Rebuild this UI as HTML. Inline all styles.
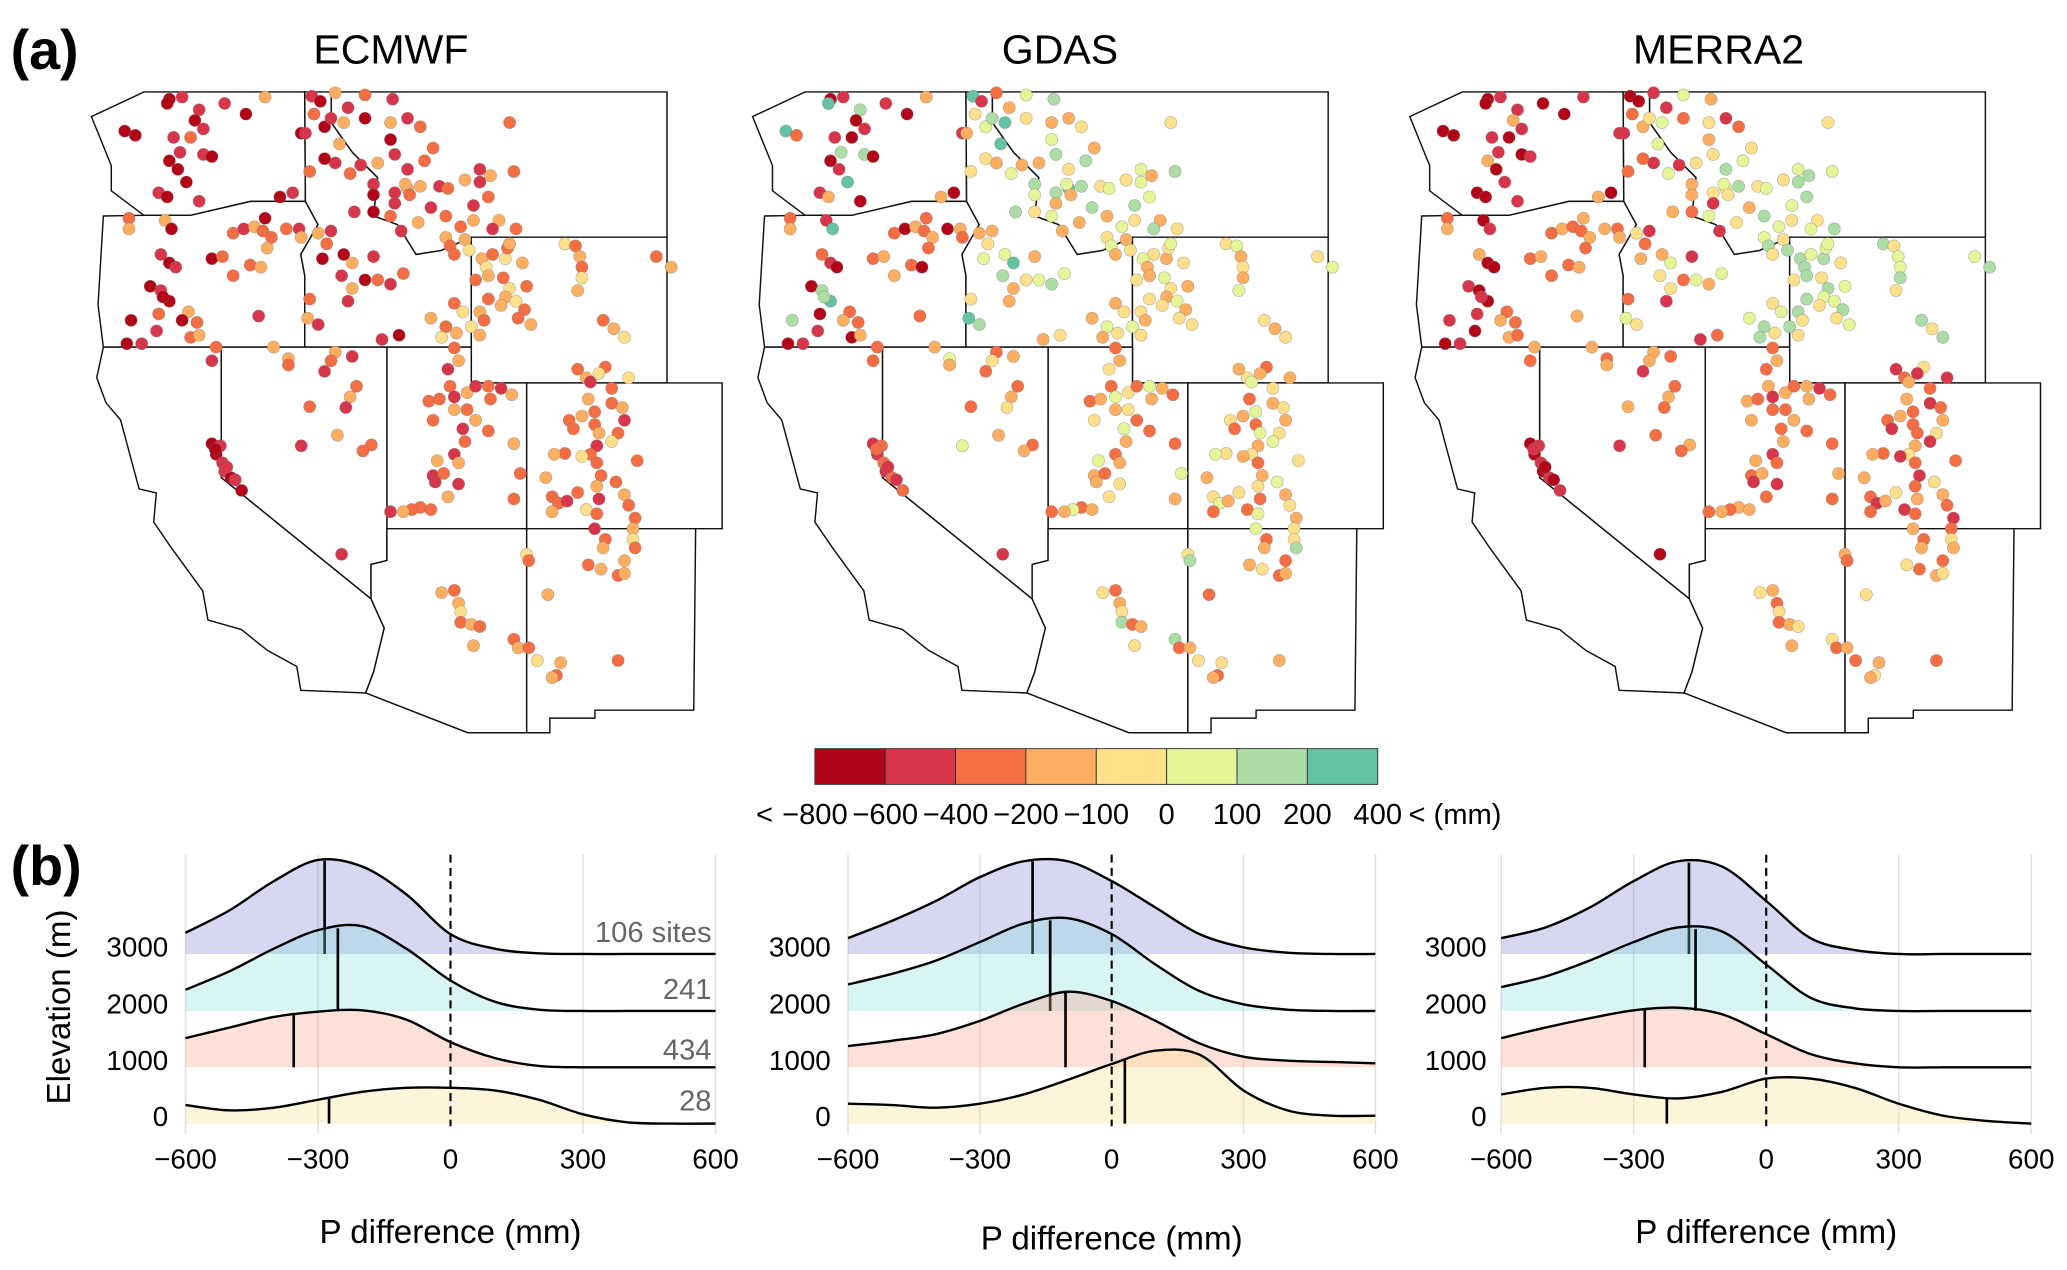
<!DOCTYPE html>
<html><head><meta charset="utf-8"><style>
html,body{margin:0;padding:0;background:#fff}
svg{display:block}
text{font-family:"Liberation Sans",Arial,sans-serif}
</style></head><body>
<svg id="fig" width="2067" height="1270" viewBox="0 0 1560 958.5" preserveAspectRatio="none" xmlns="http://www.w3.org/2000/svg">
<text x="8" y="52" font-size="42" font-weight="bold">(a)</text>
<text x="8" y="668" font-size="42" font-weight="bold">(b)</text>
<text x="295" y="48" font-size="31" text-anchor="middle">ECMWF</text>
<text x="800" y="48" font-size="31" text-anchor="middle">GDAS</text>
<text x="1297" y="48" font-size="31" text-anchor="middle">MERRA2</text>
<g id="maps"></g>
<g id="cbar"></g>
<g id="ridges"></g>
</svg>
<script>
const NS="http://www.w3.org/2000/svg";
const fig=document.getElementById('fig');
function mk(tag,attrs,parent){const e=document.createElementNS(NS,tag);for(const k in attrs)e.setAttribute(k,attrs[k]);(parent||fig).appendChild(e);return e;}

// ---------- colour classes ----------
const classColors=["#b30518","#d7364a","#f46d43","#fdae61","#fee08b","#e6f598","#abdda4","#66c2a5"];
const classLabels=["−800","−600","−400","−200","−100","0","100","200","400"];

// ---------- site positions (reference-zoom coords) by region ----------
const sitesWA=[[210,45],[240,40],[205,55],[280,70],[270,95],[340,55],[435,40],[390,80],[290,115],[105,120],[130,130],[220,135],[260,135],[235,170],[210,190],[230,210],[250,240],[290,175],[310,180],[185,265],[205,275],[280,285],[200,330],[215,350],[190,410],[210,430],[165,485],[190,495],[185,550],[180,590],[210,520],[120,565],[110,620],[145,620],[470,275],[500,265],[520,125],[545,38],[600,30],[565,50],[225,440],[195,510]];
const sitesOR=[[115,325],[115,350],[360,360],[385,350],[410,345],[435,325],[430,355],[450,370],[440,395],[485,350],[515,350],[520,370],[310,420],[335,415],[400,435],[425,440],[360,460],[420,555],[255,545],[240,565],[275,570],[260,605],[280,600],[320,628],[310,660],[455,628]];
const sitesID=[[530,125],[550,80],[575,110],[590,90],[620,100],[630,65],[670,90],[670,35],[735,45],[730,100],[770,90],[800,110],[730,140],[740,175],[610,150],[600,195],[575,185],[635,220],[690,245],[700,195],[660,200],[540,215],[690,270],[740,265],[770,255],[740,290],[690,310],[730,320],[645,310],[560,360],[590,355],[580,385],[620,410],[615,460],[640,430],[690,415],[670,470],[700,470],[730,480],[640,490],[630,520],[540,515],[570,420],[560,575],[535,560],[710,610],[750,600],[760,455],[825,300],[795,335],[755,355]];
const sitesMT=[[1010,100],[940,210],[965,225],[1020,215],[905,235],[940,240],[830,160],[810,190],[770,210],[765,245],[775,270],[800,250],[845,250],[865,255],[860,320],[925,295],[925,330],[960,275],[985,330],[970,350],[1025,350],[895,345]];
const sitesWY=[[860,370],[870,390],[905,375],[915,400],[880,410],[945,420],[970,410],[1000,420],[1040,430],[1005,395],[1010,385],[955,440],[930,470],[960,460],[995,465],[1010,490],[1000,510],[960,515],[990,530],[1025,520],[1050,485],[940,545],[950,565],[920,580],[940,600],[1045,540],[1060,575],[1140,385],[1165,390],[1175,415],[1180,440],[1180,465],[1170,495],[1230,565],[1255,585],[1280,605],[1355,415],[1390,440],[880,525],[900,545],[825,560],[860,580],[885,595],[850,605],[1030,560]];
const sitesUT=[[880,630],[890,660],[865,680],[870,720],[880,745],[880,775],[820,755],[845,750],[910,735],[930,720],[960,720],[990,725],[1015,740],[965,750],[910,775],[930,800],[900,820],[905,850],[880,880],[890,900],[830,800],[960,825],[840,895],[830,930],[855,925],[835,945],[865,980],[800,1005],[780,1010],[760,1015],[730,1015],[825,1010],[890,950],[1020,855],[1035,925],[1020,985],[600,640],[640,650],[590,660],[575,685],[490,655],[490,670],[650,720],[635,745],[625,770],[540,768],[520,860],[605,835],[685,858],[665,872]];
const sitesNVCA=[[310,855],[330,860],[320,880],[335,900],[340,920],[355,935],[365,940],[380,965],[615,1115],[318,868],[345,910]];
const sitesCO=[[1170,680],[1190,700],[1200,710],[1235,675],[1220,690],[1250,725],[1195,750],[1210,780],[1250,760],[1275,770],[1280,800],[1265,830],[1250,850],[1210,810],[1180,790],[1150,800],[1160,820],[1220,830],[1215,860],[1200,880],[1180,885],[1140,878],[1115,880],[1215,900],[1225,930],[1215,955],[1220,985],[1260,945],[1290,700],[1310,895],[1095,935],[1110,980],[1125,995],[1110,1015],[1145,990],[1170,970],[1190,1010],[1215,1020],[1280,975],[1290,1000],[1305,1030],[1300,1055],[1210,1055]];
const sitesNMAZ=[[1235,1080],[1230,1100],[1300,1080],[1305,1100],[1280,1130],[1195,1140],[1225,1150],[1265,1165],[1280,1160],[1050,1115],[1055,1130],[1100,1210],[1265,1365],[1130,1370],[1120,1400],[1110,1405],[1075,1365],[1020,1315],[1030,1335],[1055,1335],[850,1205],[880,1200],[890,1230],[895,1250],[895,1275],[920,1280],[940,1285],[925,1330]];
const regions=[sitesWA,sitesOR,sitesID,sitesMT,sitesWY,sitesUT,sitesNVCA,sitesCO,sitesNMAZ];

const ecmwfClasses=["0101013010012100","2321302","1201310213","2132312","32342324","2312132","0101101","23124232","2342323"];
const gdasClasses=["01760130172106","232032","3456734563","45364536","453435434","234253","121212","3452342534","2346234"];
const merra2Classes=["0101301010","2323","1234512534","456546","5646465645","2323123","010101","12341232","234324"];
const mapOffsets=[0,499,995];
const mapNames=["ecmwf","gdas","merra2"];
const mapClasses=[ecmwfClasses,gdasClasses,merra2Classes];

const states={
WA:"M69,88 L84,125 L84,144 L108.6,162.5 L144,162.5 L189,152 L230.5,152 L230,69.4 L108.6,69.4 Z",
OR:"M108.6,162.5 L78,163 L74,230 L78,262 L230,262 L230,208 L227,192 L240,169.5 L230.5,152 L189,152 L144,162.5 Z",
ID:"M230,69.4 L250,69.4 L250,92.5 L266,115 L285,134 L282,163 L300,169.5 L314,192 L333,189 L355.7,179 L355.7,262 L230,262 L230,208 L227,192 L240,169.5 L230.5,152 Z",
MT:"M250,69.4 L503.4,69.4 L503.4,179 L355.7,179 L333,189 L314,192 L300,169.5 L282,163 L285,134 L266,115 L250,92.5 Z",
WY:"M355.7,179 L503.4,179 L503.4,289 L355.7,289 Z",
UT:"M292,262 L355.7,262 L355.7,289 L397.5,289 L397.5,399 L292,399 Z",
CO:"M397.5,289 L545,289 L545,399 L397.5,399 Z",
NV:"M167,262 L292,262 L292,423 L280,426 L280,452 L167,360.5 Z",
CA:"M78,262 L167,262 L167,360.5 L280,452 L290,474 L282,507 L276,523 L227,521 L224,503 L202,491 L182,475 L157,468 L153,446 L129,413 L116,394 L118,372 L105,369 L91,317 L80,304 L73,285 Z",
AZ:"M292,399 L397.5,399 L397.5,553 L353,553 L276,523 L282,507 L290,474 L280,452 L280,426 L292,423 Z",
NM:"M397.5,399 L525,399 L523.6,536 L449,536 L449,542 L415,542 L415,553 L397.5,553 Z"};

const mapsG=document.getElementById('maps');
function sx(z){return 60.4+z*0.321;}
mapOffsets.forEach((off,m)=>{
  const g=mk('g',{transform:`translate(${off},0)`},mapsG);
  
  
  for(const s in states){
    const p=mk('path',{d:states[s],fill:'#fff',stroke:'#111','stroke-width':1.1},g);
    
    
  }
  regions.forEach((sites,r)=>{
    const seq=mapClasses[m][r];
    sites.forEach((pt,i)=>{
      const c=+seq[i%seq.length];
      const d=mk('circle',{cx:sx(pt[0]),cy:sx(pt[1]),r:4.6,fill:classColors[c],stroke:'rgba(120,120,120,0.5)','stroke-width':0.5},g);
      
      
    });
  });
});

// ---------- colorbar ----------
const cb=document.getElementById('cbar');
const cbX0=615,cbW=53.1,cbY=565,cbH=27;
classColors.forEach((c,i)=>{
  const r=mk('rect',{x:cbX0+i*cbW,y:cbY,width:cbW,height:cbH,fill:c,stroke:'#333','stroke-width':0.7},cb);
  
  
});
classLabels.forEach((l,i)=>{
  const t=mk('text',{x:cbX0+i*cbW,y:622,'font-size':22,'text-anchor':'middle'},cb);
  t.textContent=l;
  
  
});
let t1=mk('text',{x:577,y:622,'font-size':22,'text-anchor':'middle'},cb);t1.textContent='<';


let t2=mk('text',{x:1063,y:622,'font-size':22},cb);t2.textContent='< (mm)';



// ---------- ridge plots ----------
const xGrid=[-600,-500,-400,-300,-200,-100,0,100,200,300,400,500,600];
const elevTicks=["3000","2000","1000","0"];
const xTicks=[-600,-300,0,300,600];
const siteCounts=["106 sites","241","434","28"];
const ecmwf3000=[16,33,55,71,66,45,15,4,0.5,0,0,0,0];
const ecmwf2000=[16,30,47,61,64,47,23,7,1,0,0,0,0];
const ecmwf1000=[22,30,38,42,43,36,19,7,1,0,0,0,0];
const ecmwf0=[14,10,12,18,24,27,27,25,18,7,1,0,0];
const ecmwfMeans=[-285,-255,-355,-275];
const gdas3000=[12,25,40,58,70,70,55,35,15,5,1,0,0];
const gdas2000=[20,28,38,52,66,70,58,35,15,5,1,0,0];
const gdas1000=[16,20,25,35,48,57,50,35,18,8,5,4,3];
const gdas0=[15,14,12,15,22,33,45,55,52,25,10,6,6];
const gdasMeans=[-180,-140,-105,30];
const merra3000=[12,20,35,55,70,66,40,12,3,0,0,0,0];
const merra2000=[18,26,38,52,63,60,35,10,2,0,0,0,0];
const merra1000=[22,30,37,43,45,40,25,10,3,0,0,0,0];
const merra0=[22,27,27,22,19,24,34,34,27,15,6,2,0];
const merraMeans=[-175,-160,-275,-225];

const panels=[
 {name:'ecmwf',x0:140,x1:540,rows:[ecmwf3000,ecmwf2000,ecmwf1000,ecmwf0],means:ecmwfMeans,tickX:127,titleY:938,counts:true},
 {name:'gdas',x0:640,x1:1038,rows:[gdas3000,gdas2000,gdas1000,gdas0],means:gdasMeans,tickX:627,titleY:943,counts:false},
 {name:'merra2',x0:1133,x1:1533,rows:[merra3000,merra2000,merra1000,merra0],means:merraMeans,tickX:1122,titleY:938,counts:false}];
const baselines=[720,763,805.5,848];
const fills=['rgba(140,140,215,0.35)','rgba(130,220,220,0.3)','rgba(248,160,130,0.32)','rgba(250,225,150,0.35)'];
const rg=document.getElementById('ridges');

function crPath(pts){
  let d=`M${pts[0][0]},${pts[0][1]}`;
  for(let i=0;i<pts.length-1;i++){
    const p0=pts[Math.max(0,i-1)],p1=pts[i],p2=pts[i+1],p3=pts[Math.min(pts.length-1,i+2)];
    const c1x=p1[0]+(p2[0]-p0[0])/6,c1y=p1[1]+(p2[1]-p0[1])/6;
    const c2x=p2[0]-(p3[0]-p1[0])/6,c2y=p2[1]-(p3[1]-p1[1])/6;
    d+=` C${c1x},${c1y} ${c2x},${c2y} ${p2[0]},${p2[1]}`;
  }
  return d;
}
function interp(arr,v){
  const f=(v+600)/100;const i=Math.min(11,Math.max(0,Math.floor(f)));const t=f-i;
  return arr[i]*(1-t)+arr[i+1]*t;
}

panels.forEach(P=>{
  const g=mk('g',{},rg);
  
  
  const X=v=>P.x0+(v+600)/1200*(P.x1-P.x0);
  xTicks.forEach(v=>{
    if(v!==0){const l=mk('line',{x1:X(v),x2:X(v),y1:645,y2:856,stroke:'#e2e2e2','stroke-width':1.2},g);
    
    }
    const t=mk('text',{x:X(v),y:882,'font-size':21,'text-anchor':'middle'},g);
    t.textContent=v<0?'−'+(-v):String(v);
    
    
  });
  elevTicks.forEach((e,i)=>{
    const t=mk('text',{x:P.tickX,y:baselines[i]+2,'font-size':21,'text-anchor':'end'},g);
    t.textContent=e;
    
    
  });
  P.rows.forEach((row,i)=>{
    const b=baselines[i];
    const pts=xGrid.map((v,k)=>[X(v),b-row[k]]);
    const cp=crPath(pts);
    const f=mk('path',{d:cp+` L${X(600)},${b} L${X(-600)},${b} Z`,fill:fills[i],stroke:'none'},g);
    
    
    const l=mk('path',{d:cp,fill:'none',stroke:'#000','stroke-width':1.8},g);
    
    
    const m=P.means[i];
    const ml=mk('line',{x1:X(m),x2:X(m),y1:b,y2:b-interp(row,m),stroke:'#000','stroke-width':2},g);
    
    
    if(P.counts){
      const ct=mk('text',{x:537,y:b-[9,9,6,10][i],'font-size':22,'text-anchor':'end',fill:'#666'},g);
      ct.textContent=siteCounts[i];
      
      
    }
  });
  const z=mk('line',{x1:X(0),x2:X(0),y1:645,y2:850,stroke:'#000','stroke-width':1.6,'stroke-dasharray':'6,4'},g);
  
  
  const tt=mk('text',{x:(P.x0+P.x1)/2,y:P.titleY,'font-size':25,'text-anchor':'middle'},g);
  tt.textContent='P difference (mm)';
  
  
});
const yt=mk('text',{x:0,y:0,'font-size':25,'text-anchor':'middle',transform:'translate(53,760) rotate(-90)'},rg);
yt.textContent='Elevation (m)';


</script>
</body></html>
